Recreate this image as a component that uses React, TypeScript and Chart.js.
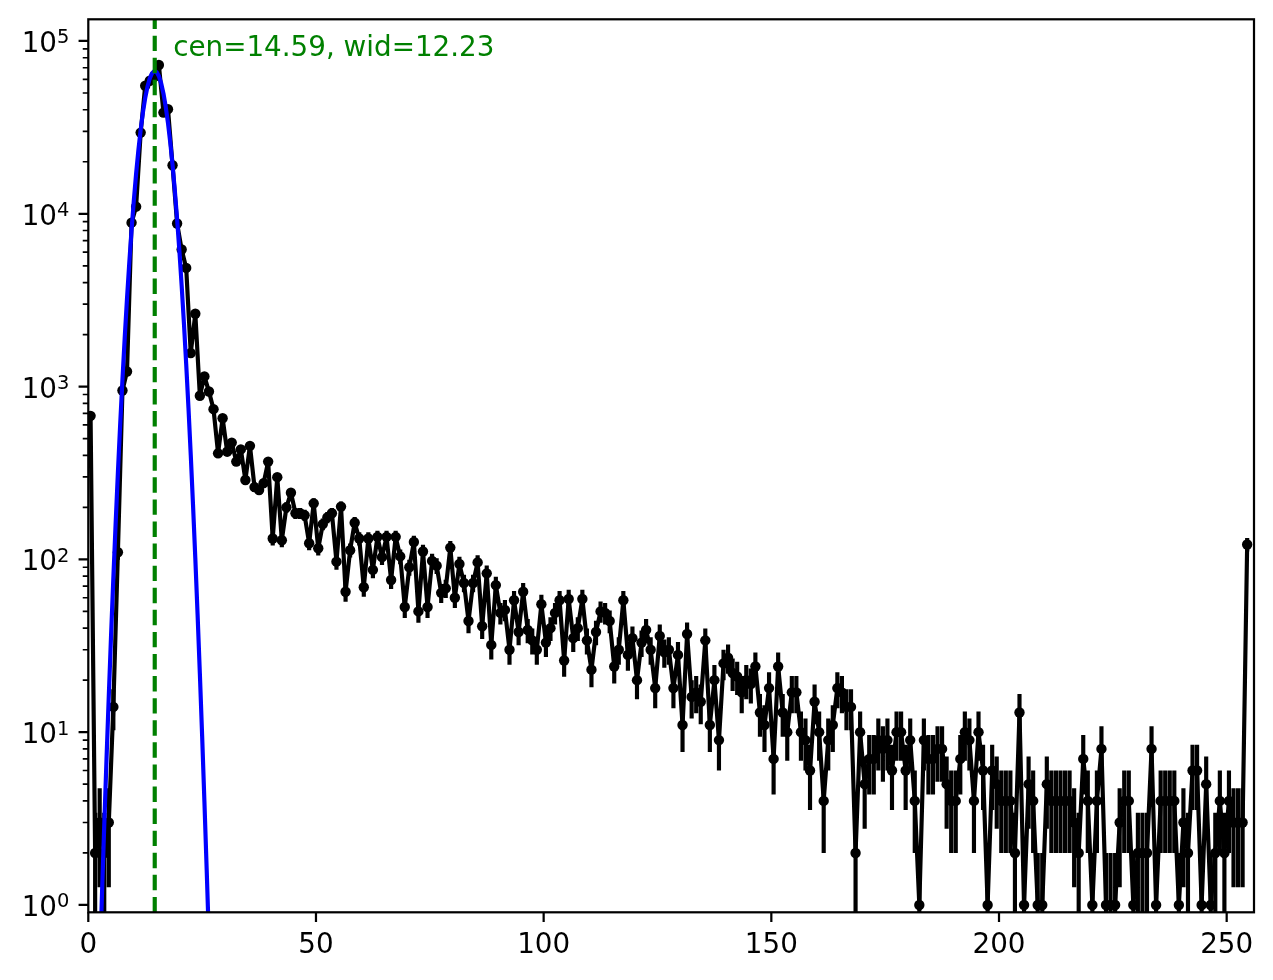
import React, { useEffect, useRef } from 'react';
import { Chart, registerables } from 'chart.js';

Chart.register(...registerables);

// Histogram counts per bin (bin i is centred at i + 0.5)
const counts: number[] = [
  677, 2, 3, 2, 3, 14, 110, 949, 1222, 8880,
  10990, 29500, 55100, 58900, 62000, 72600, 38500, 40300, 19100, 8790,
  6210, 4860, 1563, 2640, 885, 1145, 936, 740, 411, 656,
  420, 474, 368, 433, 288, 454, 262, 252, 276, 368,
  132, 299, 129, 200, 243, 185, 185, 180, 124, 211,
  116, 160, 175, 185, 97, 202, 65, 113, 163, 132,
  69, 132, 87, 135, 103, 135, 76, 135, 104, 53,
  90, 126, 50, 111, 53, 98, 92, 64, 68, 117,
  60, 94, 73, 44, 73, 96, 41, 83, 32, 71,
  49, 51, 30, 58, 38, 65, 39, 34, 30, 55,
  33, 40, 49, 58, 26, 59, 35, 40, 59, 34,
  23, 38, 50, 49, 44, 24, 30, 58, 28, 35,
  20, 33, 39, 30, 18, 36, 29, 30, 18, 28,
  11, 37, 16, 17, 15, 34, 11, 20, 9, 25,
  27, 22, 21, 17, 20, 19, 24, 13, 11, 18,
  7, 24, 13, 10, 17, 17, 10, 9, 6, 15,
  10, 4, 9, 11, 18, 17, 14, 14, 2, 10,
  5, 7, 7, 9, 8, 9, 6, 10, 10, 6,
  9, 4, 1, 9, 7, 7, 8, 8, 5, 4,
  4, 7, 10, 9, 4, 10, 6, 1, 6, 5,
  4, 4, 4, 2, 13, 1, 5, 4, 1, 1,
  5, 4, 4, 4, 4, 4, 3, 2, 7, 4,
  1, 4, 8, 1, 1, 1, 3, 4, 4, 1,
  2, 2, 2, 8, 1, 4, 4, 4, 4, 1,
  3, 2, 6, 6, 1, 5, 1, 2, 4, 2,
  4, 3, 3, 3, 122,
];

// Gaussian fit curve, read at half-unit steps
const fitX: number[] = [
  2, 2.5, 3, 3.5, 4, 4.5, 5, 5.5, 6, 6.5,
  7, 7.5, 8, 8.5, 9, 9.5, 10, 10.5, 11, 11.5,
  12, 12.5, 13, 13.5, 14, 14.5, 15, 15.5, 16, 16.5,
  17, 17.5, 18, 18.5, 19, 19.5, 20, 20.5, 21, 21.5,
  22, 22.5, 23, 23.5, 24, 24.5, 25, 25.5, 26, 26.5, 27,
];
const fitY: number[] = [
  0.157, 0.432, 1.14, 2.88, 6.98, 16.2, 36.3, 77.9, 160.6, 317.5,
  603, 1099, 1922, 3227, 5205, 8058, 11966, 17058, 23355, 30693,
  38711, 46880, 54485, 60796, 65118, 66956, 66085, 62614, 56943, 49721,
  41667, 33527, 25889, 19196, 13661, 9333, 6120, 3853, 2328, 1350,
  752, 402, 206, 101.6, 48.0, 21.8, 9.51, 3.97, 1.60, 0.615, 0.228,
];

const fitCen = 14.59;
const fitWid = 12.23;

const xTickValues: number[] = [0, 50, 100, 150, 200, 250];
const xTickLabels: string[] = ['0', '50', '100', '150', '200', '250'];
const yTickValues: number[] = [1, 10, 100, 1000, 10000, 100000];
const yTickBase = '10';
const yTickExponents: string[] = ['0', '1', '2', '3', '4', '5'];

const X_MIN = 0;
const X_MAX = 256;
const Y_MIN = 0.907;
const Y_MAX = 1.335e5;

const PT = 200 / 72;
const W = 1273;
const H = 980;
const FONT_PX = 10 * PT;
const FAMILY = '"DejaVu Sans", sans-serif';

export default function App() {
  const ref = useRef<HTMLCanvasElement | null>(null);

  useEffect(() => {
    const canvas = ref.current;
    if (!canvas) return;
    const binCenters = counts.map((_, i) => i + 0.5);
    const font = { family: FAMILY, size: FONT_PX };
    const fitLabel = `cen=${fitCen.toFixed(2)}, wid=${fitWid.toFixed(2)}`;

    const mplPlugin = {
      id: 'mplLook',
      beforeDatasetsDraw(chart: any) {
        const { ctx, chartArea: a, scales } = chart;
        const xs = scales.x;
        const ys = scales.y;
        ctx.save();
        ctx.beginPath();
        ctx.rect(a.left, a.top, a.right - a.left, a.bottom - a.top);
        ctx.clip();
        ctx.strokeStyle = '#000';
        ctx.lineWidth = 1.5 * PT;
        ctx.lineCap = 'butt';
        ctx.beginPath();
        counts.forEach((c, i) => {
          const e = Math.sqrt(c);
          const px = xs.getPixelForValue(binCenters[i]);
          const top = ys.getPixelForValue(c + e);
          const lo = c - e;
          const bot = lo > 0 ? ys.getPixelForValue(lo) : a.bottom + 20;
          ctx.moveTo(px, Math.min(bot, a.bottom + 20));
          ctx.lineTo(px, top);
        });
        ctx.stroke();
        ctx.restore();
      },
      afterDatasetsDraw(chart: any) {
        const { ctx, chartArea: a, scales } = chart;
        const xs = scales.x;
        const ys = scales.y;
        ctx.save();
        // fit annotation
        ctx.fillStyle = '#008000';
        ctx.font = `${FONT_PX}px ${FAMILY}`;
        ctx.textAlign = 'left';
        ctx.textBaseline = 'alphabetic';
        ctx.fillText(fitLabel, xs.getPixelForValue(fitCen) + 18.5, a.top + 37);

        // spines
        ctx.strokeStyle = '#000';
        ctx.lineWidth = 0.8 * PT;
        ctx.strokeRect(a.left, a.top, a.right - a.left, a.bottom - a.top);

        // x ticks
        ctx.beginPath();
        xTickValues.forEach((v) => {
          const px = xs.getPixelForValue(v);
          ctx.moveTo(px, a.bottom);
          ctx.lineTo(px, a.bottom + 3.5 * PT);
        });
        ctx.stroke();

        // y major ticks
        ctx.beginPath();
        yTickValues.forEach((v) => {
          const py = ys.getPixelForValue(v);
          ctx.moveTo(a.left, py);
          ctx.lineTo(a.left - 3.5 * PT, py);
        });
        ctx.stroke();

        // y minor ticks
        ctx.lineWidth = 0.6 * PT;
        ctx.beginPath();
        yTickValues.forEach((dec) => {
          for (let m = 2; m <= 9; m++) {
            const v = m * dec;
            if (v < Y_MIN || v > Y_MAX) continue;
            const py = ys.getPixelForValue(v);
            ctx.moveTo(a.left, py);
            ctx.lineTo(a.left - 2 * PT, py);
          }
        });
        ctx.stroke();

        // y tick labels: 10 with a raised exponent (mathtext style)
        ctx.fillStyle = '#000';
        ctx.textBaseline = 'alphabetic';
        ctx.textAlign = 'left';
        const expSize = FONT_PX * 0.7;
        yTickValues.forEach((v, i) => {
          const py = ys.getPixelForValue(v);
          ctx.font = `${expSize}px ${FAMILY}`;
          const expW = ctx.measureText(yTickExponents[i]).width;
          ctx.font = `${FONT_PX}px ${FAMILY}`;
          const baseW = ctx.measureText(yTickBase).width;
          const right = a.left - 3.5 * PT - 3.5 * PT + 0.5;
          const startX = right - expW - baseW;
          ctx.fillText(yTickBase, startX, py + 11);
          ctx.font = `${expSize}px ${FAMILY}`;
          ctx.fillText(yTickExponents[i], startX + baseW, py + 2.5);
        });
        ctx.restore();
      },
    };

    const chart = new Chart(canvas, {
      type: 'line',
      data: {
        datasets: [
          {
            label: 'axvline',
            data: [
              { x: fitCen, y: Y_MIN },
              { x: fitCen, y: Y_MAX },
            ],
            borderColor: '#008000',
            borderWidth: 1.5 * PT,
            borderDash: [3.7 * 1.5 * PT, 1.6 * 1.5 * PT],
            pointRadius: 0,
            order: 0,
            clip: 0,
          },
          {
            label: 'fit',
            data: fitX.map((x, i) => ({ x, y: fitY[i] })),
            borderColor: '#0000ff',
            borderWidth: 1.5 * PT,
            borderJoinStyle: 'round',
            pointRadius: 0,
            tension: 0,
            order: 1,
            clip: 0,
          },
          {
            label: 'data',
            data: counts.map((c, i) => ({ x: binCenters[i], y: c })),
            borderColor: '#000',
            borderWidth: 1.5 * PT,
            borderJoinStyle: 'round',
            pointRadius: 5.2,
            pointBorderWidth: 0,
            pointBackgroundColor: '#000',
            tension: 0,
            order: 2,
            clip: 0,
          },
        ],
      } as any,
      options: {
        animation: false,
        responsive: false,
        devicePixelRatio: 1,
        layout: { padding: { left: 0, right: W - 1254, top: 19.3, bottom: 0 } },
        plugins: {
          legend: { display: false },
          tooltip: { enabled: false },
        },
        scales: {
          x: {
            type: 'linear',
            min: X_MIN,
            max: X_MAX,
            grid: { display: false, drawTicks: false },
            border: { display: false },
            ticks: {
              font,
              color: '#000',
              padding: 17,
              autoSkip: false,
              maxRotation: 0,
              callback: (_v: any, i: number) => xTickLabels[i],
            },
            afterBuildTicks: (s: any) => {
              s.ticks = xTickValues.map((v) => ({ value: v }));
            },
            afterFit: (s: any) => {
              s.height = H - 912.3;
              s.paddingLeft = 0;
              s.paddingRight = 0;
            },
          },
          y: {
            type: 'logarithmic',
            min: Y_MIN,
            max: Y_MAX,
            grid: { display: false, drawTicks: false },
            border: { display: false },
            ticks: {
              font,
              color: '#000',
              padding: 20,
              autoSkip: false,
              callback: () => '',
            },
            afterBuildTicks: (s: any) => {
              s.ticks = yTickValues.map((v) => ({ value: v }));
            },
            afterFit: (s: any) => {
              s.width = 88.3;
              s.paddingTop = 0;
              s.paddingBottom = 0;
            },
          },
        },
      } as any,
      plugins: [mplPlugin],
    });

    return () => {
      chart.destroy();
    };
  }, []);

  return (
    <div style={{ position: 'absolute', left: 0, top: 0, width: W, height: H, background: '#fff' }}>
      <canvas ref={ref} width={W} height={H} style={{ width: W, height: H, display: 'block' }} />
    </div>
  );
}
